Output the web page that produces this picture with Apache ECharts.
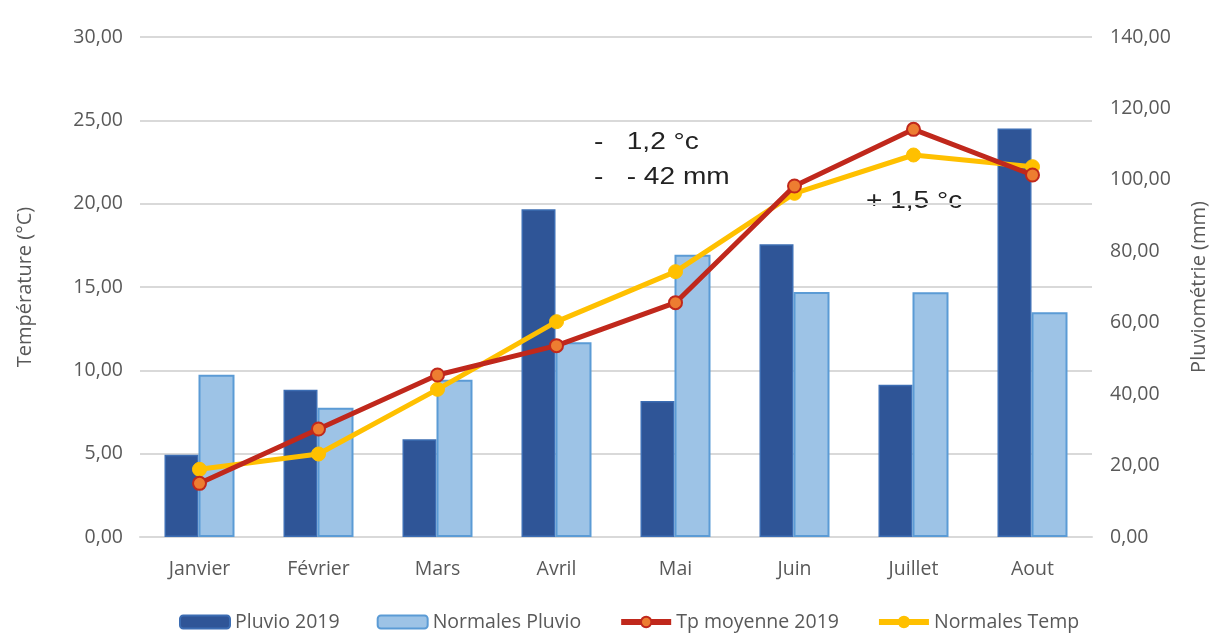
<!DOCTYPE html>
<html>
<head>
<meta charset="utf-8">
<script src="https://cdn.jsdelivr.net/npm/echarts@6/dist/echarts.min.js"></script>
<style>html,body{margin:0;padding:0;background:#fff}#c{width:1217px;height:639px}</style>
</head>
<body>
<div id="c"></div>
<script>
const categories = ['Janvier','Février','Mars','Avril','Mai','Juin','Juillet','Aout'];
const pluvio2019 = [23.0, 41.2, 27.4, 91.8, 38.1, 82.0, 42.6, 114.4];
const normalesPluvio = [45.4, 36.2, 44.0, 54.5, 79.0, 68.6, 68.5, 62.9];
const tpMoyenne2019 = [3.22, 6.48, 9.72, 11.48, 14.06, 21.06, 24.46, 21.72];
const normalesTemp = [4.06, 4.98, 8.86, 12.92, 15.92, 20.62, 22.92, 22.22];
const seriesNames = ['Pluvio 2019','Normales Pluvio','Tp moyenne 2019','Normales Temp'];
const annotations = ['-   1,2 °c', '-   - 42 mm', '+ 1,5 °c'];

const fmt = v => v.toFixed(2).replace('.', ',');
const txt = '#595959';
const font = '"Open Sans", Lato, sans-serif';
const afont = '"Liberation Sans", Arial, sans-serif';

const chart = echarts.init(document.getElementById('c'));
chart.setOption({
  animation: false,
  backgroundColor: '#fff',
  grid: {left: 140, right: 125, top: 37, bottom: 102},
  legend: {
    bottom: 2, left: 174, itemWidth: 50, itemHeight: 13, itemGap: 37,
    lineStyle: {width: 6},
    textStyle: {color: txt, fontSize: 19.5, fontFamily: font},
    data: seriesNames
  },
  xAxis: {
    type: 'category', data: categories,
    axisLine: {lineStyle: {color: '#D9D9D9', width: 2}},
    axisTick: {show: false},
    axisLabel: {color: txt, fontSize: 19.5, fontFamily: font, margin: 22}
  },
  yAxis: [
    {type: 'value', min: 0, max: 30, interval: 5,
     name: 'Température (°C)', nameLocation: 'middle', nameGap: 105,
     nameTextStyle: {color: txt, fontSize: 20, fontFamily: font},
     axisLabel: {color: txt, fontSize: 19.5, fontFamily: font, margin: 17, formatter: fmt},
     splitLine: {lineStyle: {color: '#D9D9D9', width: 2}},
     axisLine: {show: false}, axisTick: {show: false}},
    {type: 'value', min: 0, max: 140, interval: 20,
     name: 'Pluviométrie (mm)', nameLocation: 'middle', nameGap: 97,
     nameTextStyle: {color: txt, fontSize: 20, fontFamily: font},
     axisLabel: {color: txt, fontSize: 19.5, fontFamily: font, margin: 18, formatter: fmt},
     splitLine: {show: false},
     axisLine: {show: false}, axisTick: {show: false}}
  ],
  series: [
    {name: seriesNames[0], type: 'bar', yAxisIndex: 1, data: pluvio2019,
     barWidth: 34, barGap: '0%',
     itemStyle: {color: '#2F5597', borderColor: '#3C6DB3', borderWidth: 1.5}},
    {name: seriesNames[1], type: 'bar', yAxisIndex: 1, data: normalesPluvio,
     barWidth: 36, barGap: '0%',
     itemStyle: {color: '#9DC3E6', borderColor: '#5B9BD5', borderWidth: 2}},
    {name: seriesNames[2], type: 'line', yAxisIndex: 0, data: tpMoyenne2019,
     symbol: 'circle', symbolSize: 13, z: 5,
     lineStyle: {color: '#C0281C', width: 5},
     itemStyle: {color: '#ED7D31', borderColor: '#C0281C', borderWidth: 2}},
    {name: seriesNames[3], type: 'line', yAxisIndex: 0, data: normalesTemp,
     symbol: 'circle', symbolSize: 14, z: 4,
     lineStyle: {color: '#FFC000', width: 5},
     itemStyle: {color: '#FFC000', borderColor: '#FFC000', borderWidth: 1}}
  ],
  graphic: [
    {type: 'text', left: 594, top: 131, scaleX: 1.22, style: {text: annotations[0], fill: '#222', fontSize: 23, fontFamily: afont}},
    {type: 'text', left: 594, top: 166, scaleX: 1.22, style: {text: annotations[1], fill: '#222', fontSize: 23, fontFamily: afont}},
    {type: 'text', left: 866, top: 190, scaleX: 1.22, style: {text: annotations[2], fill: '#222', fontSize: 23, fontFamily: afont}}
  ]
});
</script>
</body>
</html>
